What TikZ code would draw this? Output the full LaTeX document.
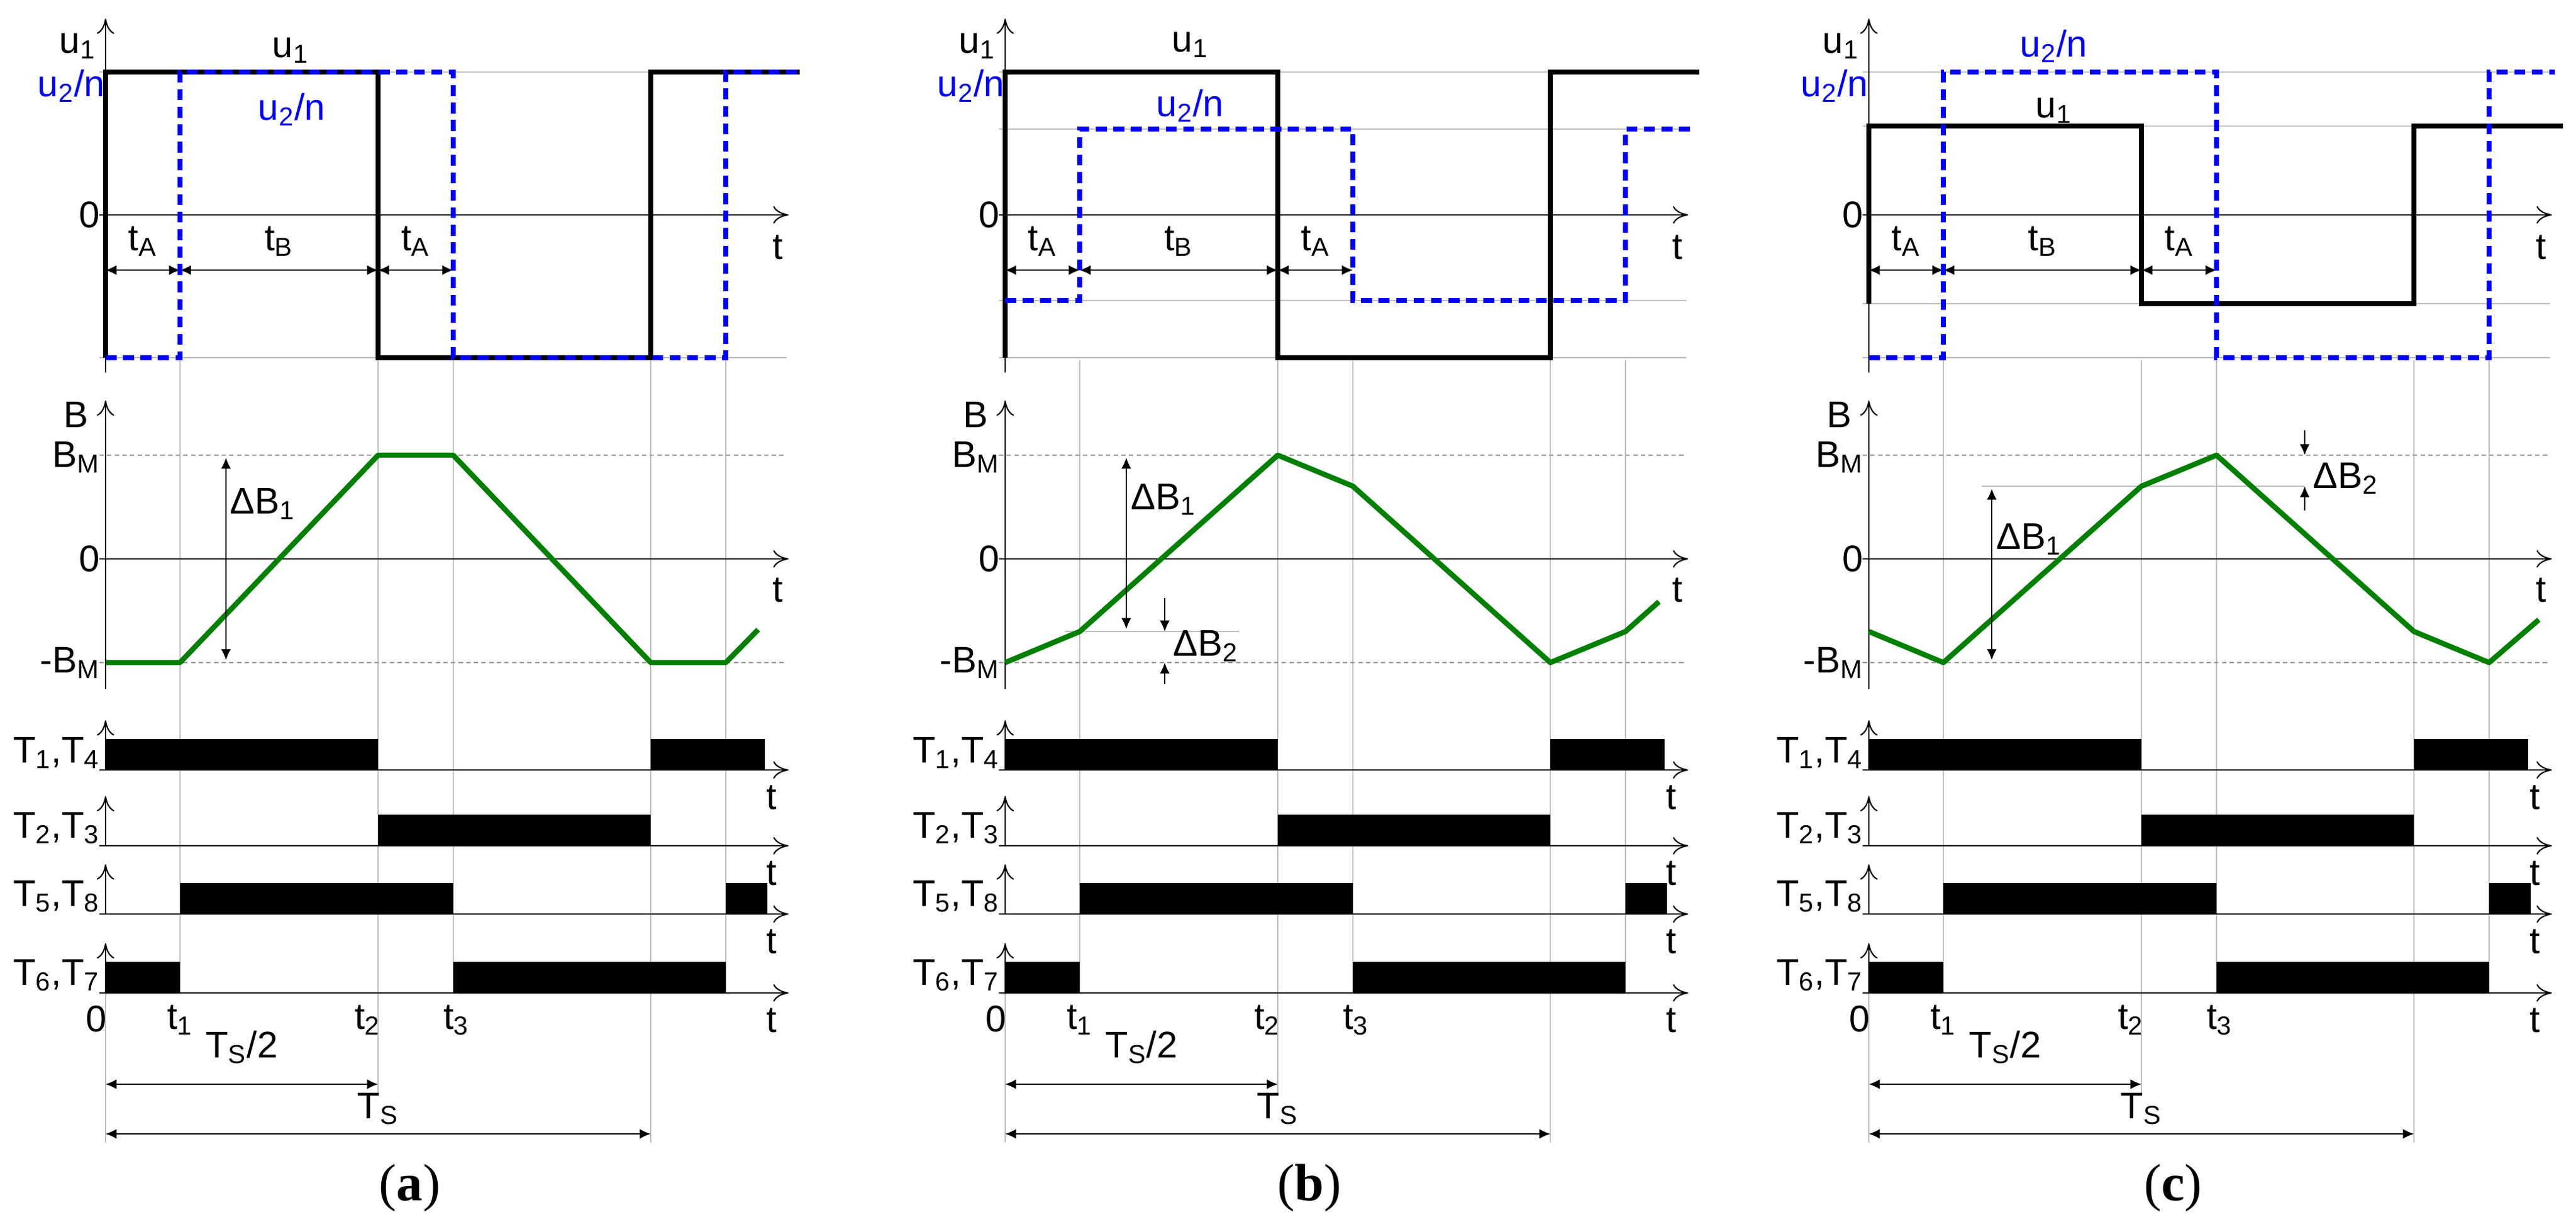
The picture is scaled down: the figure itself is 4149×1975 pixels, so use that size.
\documentclass[tikz,border=0pt]{standalone}
\usepackage{fontspec}
\setmainfont{Liberation Sans}
\newfontfamily\capfont{Liberation Serif}
\usetikzlibrary{arrows.meta}
\tikzset{
  txt/.style={font=\fontsize{17}{19}\selectfont, inner sep=1pt},
  axis/.style={line width=0.6pt, -{To[length=7pt,width=8pt]}},
  grid/.style={black!25, line width=0.4pt},
  gridd/.style={black!40, line width=0.4pt, dash pattern=on 2pt off 1.5pt},
  uone/.style={line width=2.4pt},
  utwo/.style={blue, line width=2.2pt, dash pattern=on 5pt off 3pt},
  flux/.style={green!50!black, line width=2.4pt, line join=round},
  dim/.style={line width=0.6pt, {Latex[length=5pt,width=4.5pt]}-{Latex[length=5pt,width=4.5pt]}},
  tip/.style={line width=0.6pt, -{Latex[length=5pt,width=4.5pt]}},
}
\newcommand{\sub}[1]{\textsubscript{#1}}
% axes, grid, switch signals and time marks common to a panel
\newcommand{\panelbase}[1]{
  \foreach \tx in {120,560,999} \draw[grid] (\tx,580) -- (\tx,1599);
  \draw[grid] (439,580) -- (439,1760);
  \draw[grid] (878,580) -- (878,1840);
  \draw[grid] (0,1599) -- (0,1840);
  % voltage axes
  \draw[axis] (0,600) -- (0,30);
  \draw[axis] (-10,346) -- (1100,346);
  \node[txt,left] (uz) at (-5,346) {0};
  \node[txt] (ut) at (1083,398) {t};
  \coordinate (a0) at (0,435);
  \coordinate (a1) at (120,435);
  \coordinate (a2) at (439,435);
  \coordinate (a3) at (560,435);
  \draw[dim] (a0) -- node[txt,above=5pt] {t\sub{A}} (a1);
  \draw[dim] (a1) -- node[txt,above=5pt] {t\sub{B}} (a2);
  \draw[dim] (a2) -- node[txt,above=5pt] {t\sub{A}} (a3);
  % flux axes
  \draw[gridd] (-10,733) -- (1097,733);
  \draw[gridd] (-10,1067) -- (1097,1067);
  \draw[axis] (0,1110) -- (0,645);
  \draw[axis] (-10,900) -- (1100,900);
  \node[txt] (bl) at (-48,668) {B};
  \node[txt,left] (bm) at (-5,736) {B\sub{M}};
  \node[txt,left] (bz) at (-5,900) {0};
  \node[txt,left] (bn) at (-5,1067) {-B\sub{M}};
  \node[txt] (bt) at (1083,950) {t};
  % switch signals
  \fill (0,1190) rectangle (439,1240);
  \fill (878,1190) rectangle (1062,1240);
  \fill (439,1312) rectangle (878,1362);
  \fill (120,1422) rectangle (560,1472);
  \fill (999,1422) rectangle (1066,1472);
  \fill (0,1549) rectangle (120,1599);
  \fill (560,1549) rectangle (999,1599);
  \foreach \yb/\lab in {1240/{T\sub{1},T\sub{4}},1362/{T\sub{2},T\sub{3}},1472/{T\sub{5},T\sub{8}},1599/{T\sub{6},T\sub{7}}} {
    \draw[axis] (0,\yb) -- (0,{\yb-80});
    \draw[axis] (-10,\yb) -- (1100,\yb);
    \node[txt,left] at (-5,{\yb-28}) {\lab};
    \node[txt] at (1073,{\yb+44}) {t};
  }
  \node[txt] (n0) at (-15,1641) {0};
  \node[txt] (n1) at (120,1643) {t\sub{1}};
  \node[txt] (n2) at (422,1643) {t\sub{2}};
  \node[txt] (n3) at (565,1643) {t\sub{3}};
  \coordinate (s0) at (0,1746);
  \coordinate (s2) at (439,1746);
  \coordinate (r0) at (0,1826);
  \coordinate (r4) at (878,1826);
  \draw[dim] (s0) -- node[txt,above=8pt] {T\sub{S}/2} (s2);
  \draw[dim] (r0) -- node[txt,above=3pt] {T\sub{S}} (r4);
  \node[font=\capfont\fontsize{24}{27}\selectfont] (cap) at (490,1913) {(\textbf{#1})};
}

\begin{document}
\begin{tikzpicture}[x=0.01cm, y=-0.01cm]
\useasboundingbox (0,0) rectangle (4149,1975);

% (a)
\begin{scope}[shift={(170,0)}]
\draw[grid] (-10,116) -- (1097,116);
\draw[grid] (-10,576) -- (1097,576);
\panelbase{a}
\draw[uone] (0,576) -- (0,116) -- (439,116) -- (439,576) -- (878,576) -- (878,116) -- (1118,116);
\draw[utwo] (0,576) -- (120,576) -- (120,116) -- (560,116) -- (560,576) -- (999,576) -- (999,116) -- (1118,116);
\node[txt] (ua) at (-45,74) {u\sub{1}};
\node[txt,blue] (va) at (-55,138) {u\sub{2}/n};
\node[txt] at (298,81) {u\sub{1}};
\node[txt,blue] at (300,176) {u\sub{2}/n};
\draw[flux] (0,1067) -- (120,1067) -- (439,733) -- (560,733) -- (878,1067) -- (999,1067) -- (1051,1014);
\coordinate (da) at (194,737);
\coordinate (db) at (194,1063);
\draw[dim] (da) -- (db);
\node[txt,right] at (196,811) {ΔB\sub{1}};
\end{scope}

% (b)
\begin{scope}[shift={(1619,0)}]
\foreach \yy in {116,208,484,576} \draw[grid] (-10,\yy) -- (1097,\yy);
\panelbase{b}
\draw[uone] (0,576) -- (0,116) -- (439,116) -- (439,576) -- (878,576) -- (878,116) -- (1118,116);
\draw[utwo] (0,484) -- (120,484) -- (120,208) -- (560,208) -- (560,484) -- (999,484) -- (999,208) -- (1105,208);
\node[txt] (ub) at (-45,74) {u\sub{1}};
\node[txt,blue] (vb) at (-55,138) {u\sub{2}/n};
\node[txt] at (298,72) {u\sub{1}};
\node[txt,blue] at (298,170) {u\sub{2}/n};
\draw[grid] (96,1017) -- (377,1017);
\draw[flux] (0,1067) -- (120,1017) -- (439,733) -- (560,783) -- (878,1067) -- (999,1017) -- (1053,969);
\coordinate (ea) at (195,737);
\coordinate (eb) at (195,1013);
\draw[dim] (ea) -- (eb);
\node[txt,right] at (198,804) {ΔB\sub{1}};
\coordinate (fa) at (257,963);
\coordinate (fb) at (257,1017);
\coordinate (fc) at (257,1102);
\coordinate (fd) at (257,1067);
\draw[tip] (fa) -- (fb);
\draw[tip] (fc) -- (fd);
\node[txt,right] at (266,1040) {ΔB\sub{2}};
\end{scope}

% (c)
\begin{scope}[shift={(3010,0)}]
\foreach \yy in {116,203,489,576} \draw[grid] (-10,\yy) -- (1097,\yy);
\panelbase{c}
\draw[uone] (0,489) -- (0,203) -- (439,203) -- (439,489) -- (878,489) -- (878,203) -- (1118,203);
\draw[utwo] (0,576) -- (120,576) -- (120,116) -- (560,116) -- (560,576) -- (999,576) -- (999,116) -- (1105,116);
\node[txt] (uc) at (-45,74) {u\sub{1}};
\node[txt,blue] (vc) at (-55,138) {u\sub{2}/n};
\node[txt,blue] at (298,74) {u\sub{2}/n};
\node[txt] at (298,178) {u\sub{1}};
\draw[grid] (182,783) -- (702,783);
\draw[flux] (0,1017) -- (120,1067) -- (439,783) -- (560,733) -- (878,1017) -- (999,1067) -- (1079,998);
\coordinate (ga) at (198,787);
\coordinate (gb) at (198,1063);
\draw[dim] (ga) -- (gb);
\node[txt,right] at (201,868) {ΔB\sub{1}};
\coordinate (ha) at (702,693);
\coordinate (hb) at (702,733);
\coordinate (hc) at (702,822);
\coordinate (hd) at (702,783);
\draw[tip] (ha) -- (hb);
\draw[tip] (hc) -- (hd);
\node[txt,right] at (711,770) {ΔB\sub{2}};
\end{scope}
\end{tikzpicture}
\end{document}
